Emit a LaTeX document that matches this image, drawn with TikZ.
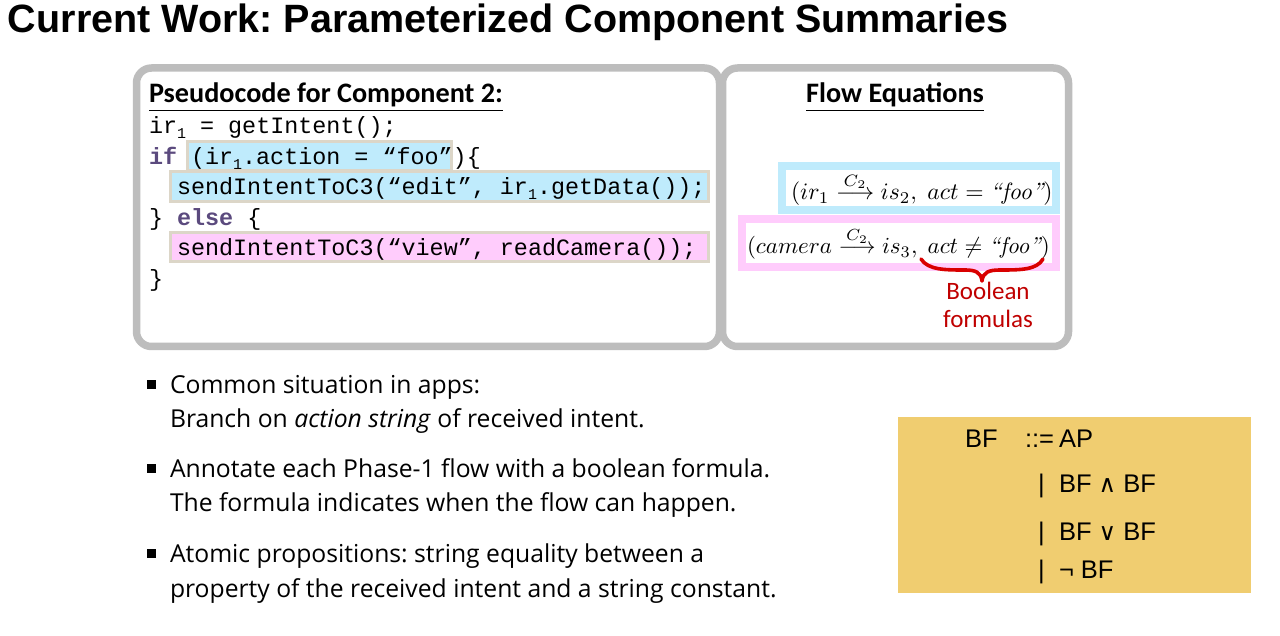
\documentclass[tikz,border=0pt]{standalone}
\usepackage{amsmath}
\usepackage{fontspec}
\newfontfamily\bodyf{Open Sans}
\newfontfamily\headb{Carlito}
\newfontfamily\headf{Liberation Sans}
\newfontfamily\codef{Liberation Mono}
\newfontfamily\symf{DejaVu Sans}
\definecolor{greybox}{HTML}{BDBDBD}
\definecolor{hlblue}{HTML}{BFEBFC}
\definecolor{hlpink}{HTML}{FFCCFC}
\definecolor{hlrim}{HTML}{DCD6C8}
\definecolor{kw}{HTML}{5B4A7E}
\definecolor{darkred}{HTML}{C00000}
\definecolor{gold}{HTML}{F0CD70}
\newcommand{\irsub}{{\fontsize{15}{15}\selectfont\raisebox{-5pt}{1}}}
\newcommand{\kwd}[1]{\textcolor{kw}{\bfseries #1}}
\tikzset{
  x=1pt,y=-1pt,
  txt/.style={inner sep=0pt,outer sep=0pt,anchor=base west,execute at begin node=\frenchspacing},
  title/.style={txt,font=\headf\bfseries\fontsize{39.5}{42}\selectfont},
  head/.style={txt,font=\headb\bfseries\fontsize{28.2}{30}\selectfont},
  code/.style={txt,font=\codef\fontsize{23.4}{26}\selectfont},
  body/.style={txt,font=\bodyf\fontsize{24.7}{30}\selectfont},
  red label/.style={inner sep=0pt,anchor=base,text=darkred,font=\headb\fontsize{25}{28}\selectfont},
  gram/.style={txt,font=\headf\fontsize{25.5}{28}\selectfont},
  panel/.style={draw=greybox,line width=7.5pt,fill=white,rounded corners=15pt},
  hl/.style={draw=hlrim,line width=3pt},
  eqbox/.style={line width=8pt,fill=white},
  eq/.style={txt,scale=2.36},
  bulletmark/.style={fill=black,minimum width=9pt,minimum height=9pt,inner sep=0pt,anchor=center},
}
\begin{document}
\begin{tikzpicture}
\useasboundingbox (0,0) rectangle (1280,636);
\fill[white] (0,0) rectangle (1280,636);
\node[title] (title) at (8,33) {Current Work: Parameterized Component Summaries};

% panels
\draw[panel] (136.5,68) rectangle (719.5,346.5);
\draw[panel] (722.5,68) rectangle (1068.5,346.5);

% highlights
\draw[hl,fill=hlblue] (187.5,142) rectangle (451,171);
\draw[hl,fill=hlblue] (170.5,171.5) rectangle (708.5,201.5);
\draw[hl,fill=hlpink] (170.5,232.5) rectangle (708.5,262);

% code
\node[head] (pchead) at (149,103) {\underline{Pseudocode for Component 2:}};
\node[code] (l1) at (149,134) {ir\irsub{} = getIntent();};
\node[code] (l2a) at (149,165) {\kwd{if}};
\node[code] (l2b) at (191,165) {(ir\irsub.action = “foo”)\{};
\node[code] (l3) at (177,195) {sendIntentToC3(“edit”, ir\irsub.getData());};
\node[code] (l4) at (149,226) {\} \kwd{else} \{};
\node[code] (l5) at (177,256) {sendIntentToC3(“view”, readCamera());};
\node[code] (l6) at (149,287) {\}};

% flow equations
\node[head,anchor=base] (fehead) at (895,103) {\underline{Flow Equations}};
\draw[eqbox,draw=hlblue] (782,166) rectangle (1056,210);
\draw[eqbox,draw=hlpink] (742,219) rectangle (1056,267.5);
\node[eq] (eq1) at (791,200) {$(ir_1 \overset{C_2}{\longrightarrow} is_2,\; act = \textit{``foo''})$};
\node[eq,scale=0.975] (eq2) at (747,254) {$(camera \overset{C_2}{\longrightarrow} is_3,\; act \neq \textit{``foo''})$};
\draw[darkred!60!red,line width=3.6pt,line cap=round,line join=round]
  (921,259) .. controls (928,270) and (945,270) .. (965,270)
  .. controls (975,270) and (981,272) .. (982,281)
  .. controls (983,272) and (989,270) .. (1000,270)
  .. controls (1020,270) and (1037,270) .. (1043,259);
\node[red label] (bool1) at (988,300) {Boolean};
\node[red label] (bool2) at (988,327) {formulas};

% bullets
\node[bulletmark] (b1) at (151,384) {};
\node[body] (t1a) at (170,393) {Common situation in apps:};
\node[body] (t1b) at (170,427) {Branch on \textit{action string} of received intent.};
\node[bulletmark] (b2) at (151,468) {};
\node[body] (t2a) at (170,477) {Annotate each Phase-1 flow with a boolean formula.};
\node[body] (t2b) at (170,511) {The formula indicates when the flow can happen.};
\node[bulletmark] (b3) at (151,553) {};
\node[body] (t3a) at (170,562) {Atomic propositions: string equality between a};
\node[body] (t3b) at (170,597) {property of the received intent and a string constant.};

% grammar
\fill[gold] (898,417) rectangle (1251,593);
\node[gram] (g1) at (965,447) {BF};
\node[gram] (g2) at (1025,447) {::=};
\node[gram] (g3) at (1059,447) {AP};
\node[gram] (g4) at (1038,492) {|};
\node[gram] (g5) at (1059,492) {BF {\symf\fontsize{24}{24}\selectfont ∧} BF};
\node[gram] (g6) at (1038,540) {|};
\node[gram] (g7) at (1059,540) {BF {\symf\fontsize{24}{24}\selectfont ∨} BF};
\node[gram] (g8) at (1038,578) {|};
\node[gram] (g9) at (1059,578) {¬ BF};
\end{tikzpicture}
\end{document}
